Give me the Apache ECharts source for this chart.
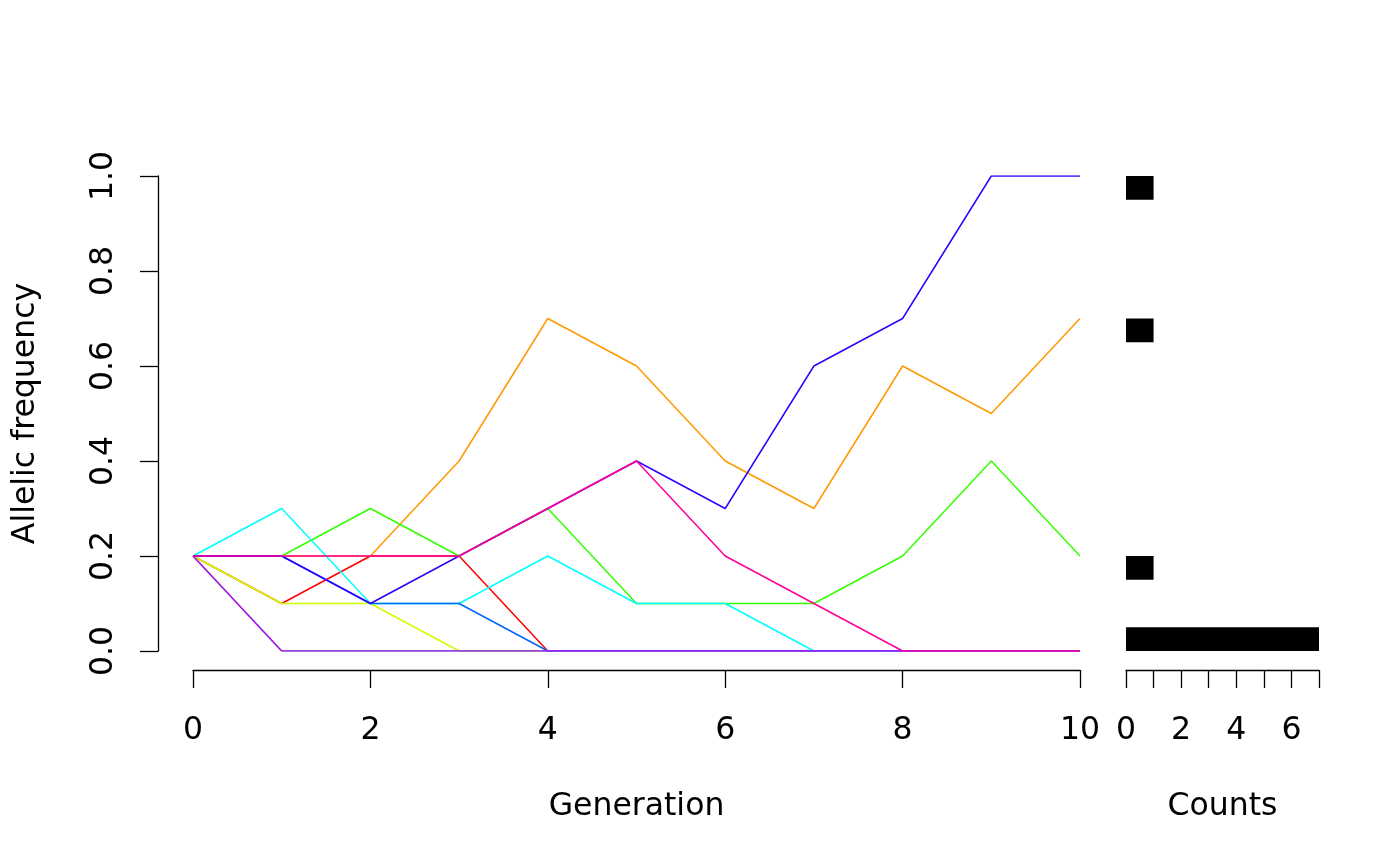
<!DOCTYPE html>
<html>
<head>
<meta charset="utf-8">
<script src="https://cdn.jsdelivr.net/npm/echarts@6/dist/echarts.min.js"></script>
<style>html,body{margin:0;padding:0;background:#fff}#c{width:1400px;height:866px}</style>
</head>
<body>
<div id="c"></div>
<script>
const generations = [0,1,2,3,4,5,6,7,8,9,10];
const lineColors = ['#FF0000','#FF9900','#CCFF00','#33FF00','#00FF66','#00FFFF','#0066FF','#3300FF','#CC00FF','#FF0099'];
const freqRed    = [0.2,0.1,0.2,0.2,0.0,0.0,0.0,0.0,0.0,0.0,0.0];
const freqOrange = [0.2,0.2,0.2,0.4,0.7,0.6,0.4,0.3,0.6,0.5,0.7];
const freqYellow = [0.2,0.1,0.1,0.0,0.0,0.0,0.0,0.0,0.0,0.0,0.0];
const freqGreen  = [0.2,0.2,0.3,0.2,0.3,0.1,0.1,0.1,0.2,0.4,0.2];
const freqSpring = [0.2,0.0,0.0,0.0,0.0,0.0,0.0,0.0,0.0,0.0,0.0];
const freqCyan   = [0.2,0.3,0.1,0.1,0.2,0.1,0.1,0.0,0.0,0.0,0.0];
const freqBlue   = [0.2,0.2,0.1,0.1,0.0,0.0,0.0,0.0,0.0,0.0,0.0];
const freqIndigo = [0.2,0.2,0.1,0.2,0.3,0.4,0.3,0.6,0.7,1.0,1.0];
const freqPurple = [0.2,0.0,0.0,0.0,0.0,0.0,0.0,0.0,0.0,0.0,0.0];
const freqPink   = [0.2,0.2,0.2,0.2,0.3,0.4,0.2,0.1,0.0,0.0,0.0];
const allFreqs = [freqRed,freqOrange,freqYellow,freqGreen,freqSpring,freqCyan,freqBlue,freqIndigo,freqPurple,freqPink];
const binLow  = [0.00,0.15,0.65,0.95];
const binHigh = [0.05,0.20,0.70,1.00];
const binCounts = [7,1,1,1];
const yTicks = ['0.0','0.2','0.4','0.6','0.8','1.0'];

const FONT = 'DejaVu Sans';
const FS = 31.5;
const chart = echarts.init(document.getElementById('c'), null, {renderer:'canvas'});

const lineSeries = allFreqs.map((arr, i) => ({
  type: 'line',
  xAxisIndex: 0, yAxisIndex: 0,
  data: generations.map((g, k) => [g, arr[k]]),
  symbol: 'none',
  lineStyle: {color: lineColors[i], width: 1.5},
  z: 2 + i,
  animation: false
}));

const histSeries = {
  type: 'custom',
  xAxisIndex: 1, yAxisIndex: 1,
  data: binCounts.map((c, i) => [c, binLow[i], binHigh[i]]),
  renderItem: function (params, api) {
    const p0 = api.coord([0, api.value(1)]);
    const p1 = api.coord([api.value(0), api.value(2)]);
    return {type: 'rect', shape: {x: p0[0], y: p1[1], width: p1[0] - p0[0], height: p0[1] - p1[1]}, style: {fill: '#000'}};
  },
  animation: false
};

const axisCommon = {
  axisLine: {show: true, onZero: false, lineStyle: {color: '#000', width: 1.3}},
  axisTick: {show: true, inside: false, length: 18, lineStyle: {color: '#000', width: 1.3}},
  splitLine: {show: false},
  axisLabel: {color: '#000', fontFamily: FONT, fontSize: FS},
  nameTextStyle: {color: '#000', fontFamily: FONT, fontSize: FS}
};

chart.setOption({
  backgroundColor: '#fff',
  animation: false,
  grid: [
    {left: 193, right: 320, top: 176, bottom: 215},
    {left: 1126, right: 81, top: 176, bottom: 215}
  ],
  xAxis: [
    Object.assign({}, axisCommon, {
      type: 'value', gridIndex: 0, min: 0, max: 10, interval: 2, offset: 19,
      name: 'Generation', nameLocation: 'middle', nameGap: 121,
      axisLabel: Object.assign({}, axisCommon.axisLabel, {margin: 45})
    }),
    Object.assign({}, axisCommon, {
      type: 'value', gridIndex: 1, min: 0, max: 7, interval: 1, offset: 19,
      name: 'Counts', nameLocation: 'middle', nameGap: 121,
      axisLabel: Object.assign({}, axisCommon.axisLabel, {margin: 45,
        formatter: v => (v % 2 === 0 ? String(v) : ''), showMinLabel: true, showMaxLabel: true})
    })
  ],
  yAxis: [
    Object.assign({}, axisCommon, {
      type: 'value', gridIndex: 0, min: 0, max: 1, interval: 0.2, offset: 35,
      name: 'Allelic frequency', nameLocation: 'middle', nameGap: 116,
      axisLabel: Object.assign({}, axisCommon.axisLabel, {margin: 38, rotate: 90,
        formatter: v => yTicks[Math.round(v / 0.2)]})
    }),
    {type: 'value', gridIndex: 1, min: 0, max: 1, show: false}
  ],
  series: lineSeries.concat([histSeries])
});
</script>
</body>
</html>
